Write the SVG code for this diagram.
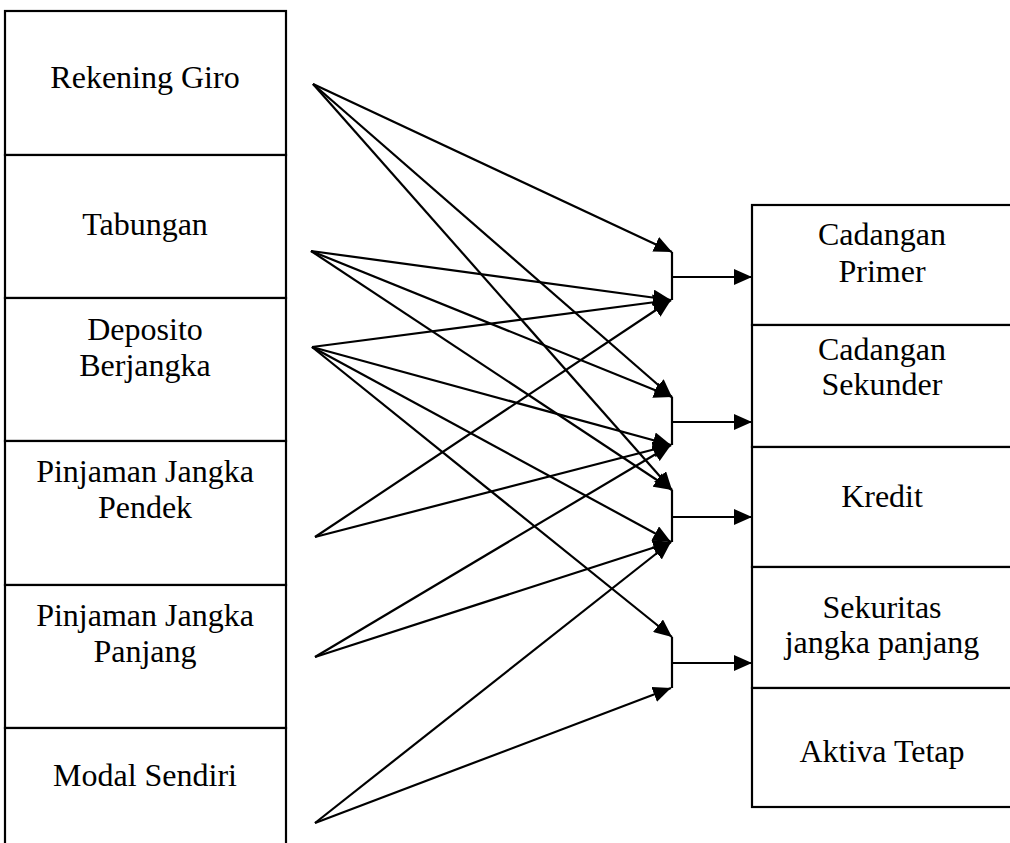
<svg xmlns="http://www.w3.org/2000/svg" width="1010" height="843" viewBox="0 0 1010 843">
<defs>
<style>
.box{fill:#fff;stroke:#000;stroke-width:2.2}
.t{font-family:"Liberation Serif","Times New Roman",serif;font-size:32px;fill:#000;text-anchor:middle}
.ln{stroke:#000;stroke-width:2.2;fill:none}
.ar{stroke:#000;stroke-width:2.2;fill:none;marker-end:url(#ah)}
</style>
<marker id="ah" markerUnits="userSpaceOnUse" markerWidth="19" markerHeight="16" refX="18" refY="8" orient="auto">
<path d="M0,0 L18,8 L0,16 Z" fill="#000"/>
</marker>
</defs>
<rect width="1010" height="843" fill="#fff"/>
<g id="rekening-giro"><rect class="box" x="5" y="11" width="281" height="144"/><text class="t" x="145" y="88">Rekening Giro</text></g>
<g id="tabungan"><rect class="box" x="5" y="155" width="281" height="143"/><text class="t" x="145" y="235">Tabungan</text></g>
<g id="deposito"><rect class="box" x="5" y="298" width="281" height="143"/><text class="t" x="145" y="340">Deposito</text><text class="t" x="145" y="376">Berjangka</text></g>
<g id="pinjaman-pendek"><rect class="box" x="5" y="441" width="281" height="144"/><text class="t" x="145" y="482">Pinjaman Jangka</text><text class="t" x="145" y="518">Pendek</text></g>
<g id="pinjaman-panjang"><rect class="box" x="5" y="585" width="281" height="143"/><text class="t" x="145" y="626">Pinjaman Jangka</text><text class="t" x="145" y="662">Panjang</text></g>
<g id="modal-sendiri"><rect class="box" x="5" y="728" width="281" height="140"/><text class="t" x="145" y="786">Modal Sendiri</text></g>
<g id="cadangan-primer"><rect class="box" x="752" y="205" width="265" height="120"/><text class="t" x="882" y="245">Cadangan</text><text class="t" x="882" y="282">Primer</text></g>
<g id="cadangan-sekunder"><rect class="box" x="752" y="325" width="265" height="122"/><text class="t" x="882" y="360">Cadangan</text><text class="t" x="882" y="395">Sekunder</text></g>
<g id="kredit"><rect class="box" x="752" y="447" width="265" height="120"/><text class="t" x="882" y="507">Kredit</text></g>
<g id="sekuritas"><rect class="box" x="752" y="567" width="265" height="121"/><text class="t" x="882" y="618">Sekuritas</text><text class="t" x="882" y="653">jangka panjang</text></g>
<g id="aktiva-tetap"><rect class="box" x="752" y="688" width="265" height="119"/><text class="t" x="882" y="762">Aktiva Tetap</text></g>
<g id="connectors">
<path class="ar" d="M313,84 L672,252"/>
<path class="ar" d="M313,84 L672,397"/>
<path class="ar" d="M313,84 L672,490"/>
<path class="ar" d="M311,251 L671,300"/>
<path class="ar" d="M311,251 L672,397"/>
<path class="ar" d="M311,251 L672,490"/>
<path class="ar" d="M312,347 L671,300"/>
<path class="ar" d="M312,347 L671,445"/>
<path class="ar" d="M312,347 L671,542"/>
<path class="ar" d="M312,347 L672,637"/>
<path class="ar" d="M315,537 L671,300"/>
<path class="ar" d="M315,537 L671,445"/>
<path class="ar" d="M315,657 L671,445"/>
<path class="ar" d="M315,657 L671,542"/>
<path class="ar" d="M315,823 L671,542"/>
<path class="ar" d="M315,823 L671,688"/>
<path class="ln" d="M672,252 V300 M672,397 V445 M672,490 V542 M672,637 V688"/>
<path class="ar" d="M672,277 H752"/>
<path class="ar" d="M672,422 H752"/>
<path class="ar" d="M672,517 H752"/>
<path class="ar" d="M672,663 H752"/>
</g>
</svg>
